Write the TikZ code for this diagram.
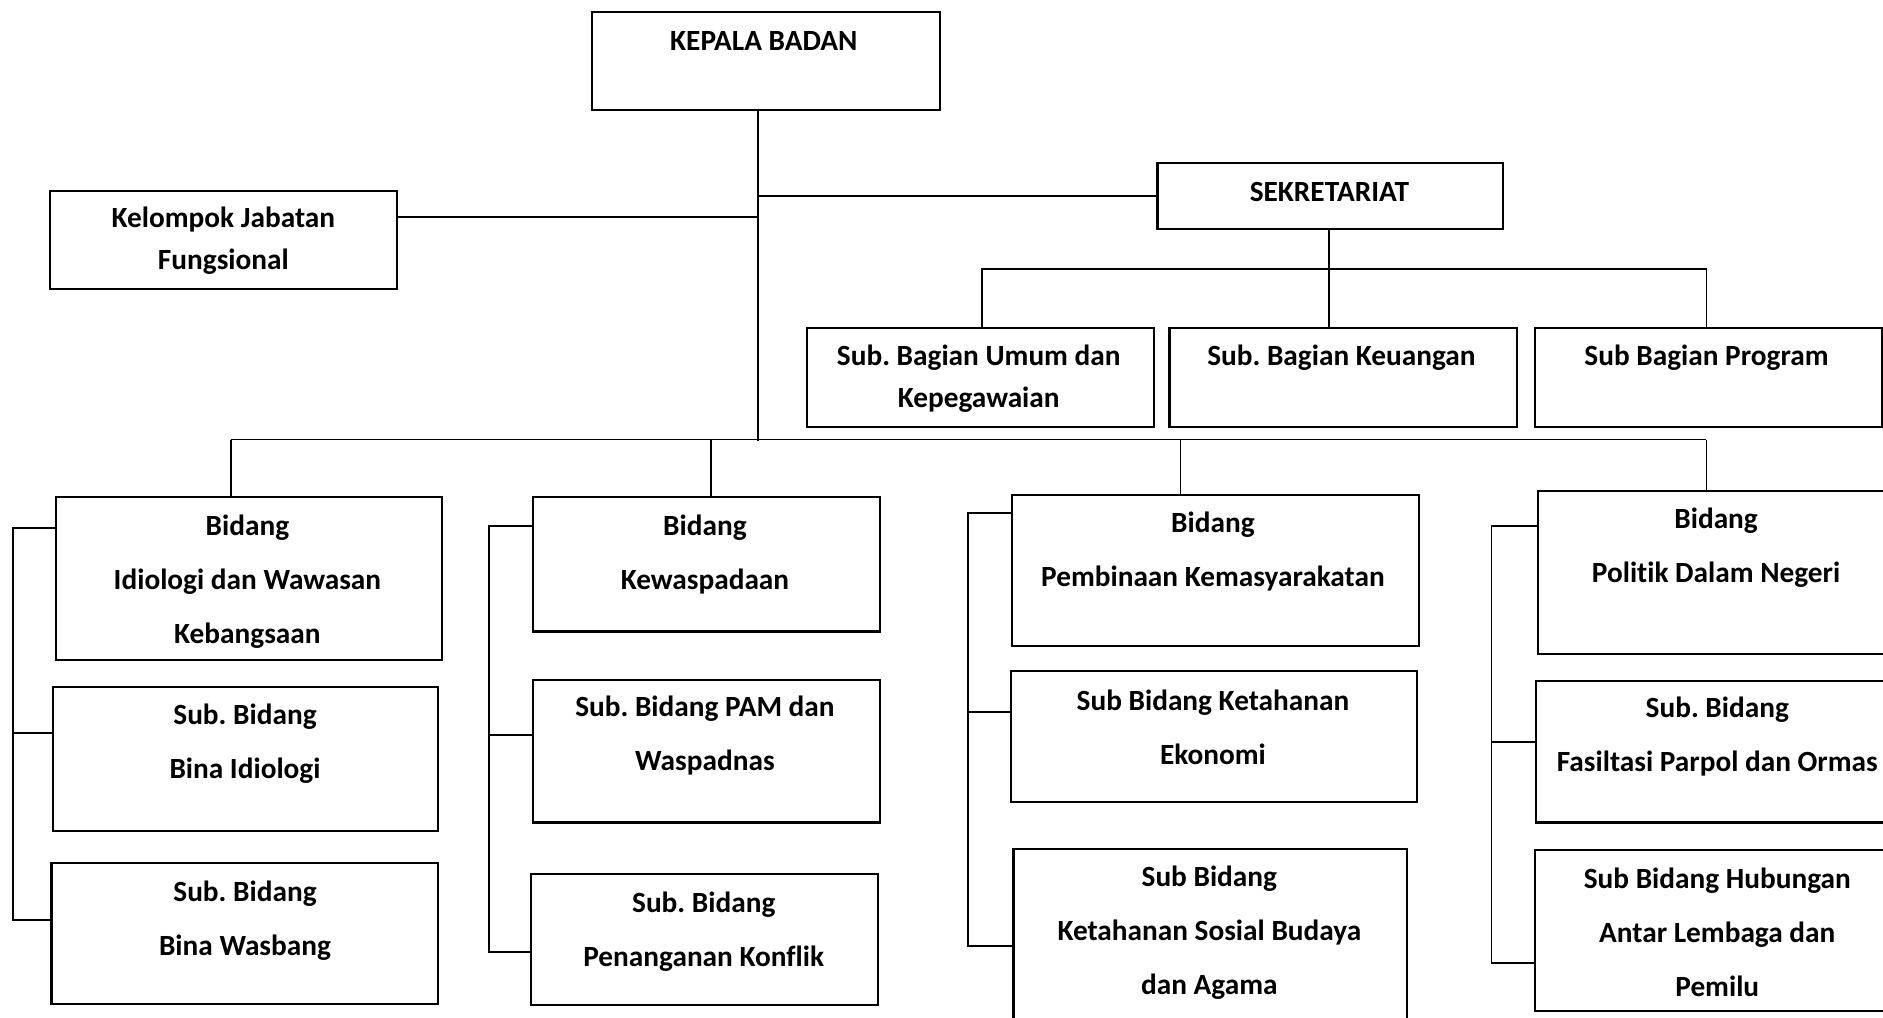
\documentclass[tikz,border=0pt]{standalone}
\usepackage{fontspec}
\setmainfont{Carlito}[Ligatures=NoCommon]
\frenchspacing
\newcommand\bxnode[5]{\node[bx, minimum width={(#4-#2)*0.5pt}, minimum height={(#5-#3)*0.5pt}] (#1) at (#2,#3) {};}
\begin{document}
\begin{tikzpicture}[x=0.5pt,y=-0.5pt,
  bx/.style={draw, line width=0.9pt, anchor=north west, inner sep=0pt, rectangle},
  txt/.style={font=\bfseries\fontsize{12.2}{22.5}\selectfont, align=center, inner sep=0pt},
  txts/.style={font=\bfseries\fontsize{12.2}{17.5}\selectfont, align=center, inner sep=0pt},
  conn/.style={line width=0.8pt}]
\clip (0,0) rectangle (1568,847);
\fill[white] (0,0) rectangle (1568,847);
% boxes
\bxnode{kb}{492}{9}{782}{91}
\bxnode{kel}{41}{158}{330}{240}
\bxnode{sek}{963}{135}{1251}{190}
\bxnode{umum}{671}{272}{960}{355}
\bxnode{keu}{973}{272}{1262}{355}
\bxnode{prog}{1277}{272}{1566}{355}
\bxnode{bid1}{46}{413}{367}{549}
\bxnode{s11}{43}{571}{364}{691}
\bxnode{s12}{42}{718}{364}{835}
\bxnode{bid2}{443}{413}{732}{525}
\bxnode{s21}{443}{565}{732}{684}
\bxnode{s22}{441}{727}{730}{836}
\bxnode{bid3}{842}{411}{1181}{537}
\bxnode{s31}{841}{558}{1179}{667}
\bxnode{s32}{843}{706}{1171}{870}
\bxnode{bid4}{1280}{408}{1590}{544}
\bxnode{s41}{1278}{566}{1590}{684}
\bxnode{s42}{1277}{707}{1590}{841}
% texts
\node[txt] (kbt) at (636,34) {KEPALA BADAN};
\node[txts] (kelt) at (186,200.5) {Kelompok Jabatan\\Fungsional};
\node[txt] (sekt) at (1107,160) {SEKRETARIAT};
\node[txts] (umumt) at (815,315.5) {Sub. Bagian Umum dan\\Kepegawaian};
\node[txt] (keut) at (1117,298) {Sub. Bagian Keuangan};
\node[txt] (progt) at (1421,298) {Sub Bagian Program};
\node[txt] (bid1t) at (206,484) {Bidang\\Idiologi dan Wawasan\\Kebangsaan};
\node[txt] (s11t) at (204,619.5) {Sub. Bidang\\Bina Idiologi};
\node[txt] (s12t) at (204,766.5) {Sub. Bidang\\Bina Wasbang};
\node[txt] (bid2t) at (587,461.5) {Bidang\\Kewaspadaan};
\node[txt] (s21t) at (587,612.5) {Sub. Bidang PAM dan\\Waspadnas};
\node[txt] (s22t) at (586,775.5) {Sub. Bidang\\Penanganan Konflik};
\node[txt] (bid3t) at (1010,459) {Bidang\\Pembinaan Kemasyarakatan};
\node[txt] (s31t) at (1010,605.5) {Sub Bidang Ketahanan\\Ekonomi};
\node[txt] (s32t) at (1007,776.5) {Sub Bidang\\Ketahanan Sosial Budaya\\dan Agama};
\node[txt] (bid4t) at (1429,456) {Bidang\\Politik Dalam Negeri};
\node[txt] (s41t) at (1430,613.5) {Sub. Bidang\\Fasiltasi Parpol dan Ormas};
\node[txt] (s42t) at (1430,776.5) {Sub Bidang Hubungan\\Antar Lembaga dan\\Pemilu};
% junction coordinates
\coordinate (tr) at (631,367);
\coordinate (kj) at (631,181);
\coordinate (sj) at (1107,224);
\coordinate (ul) at (818,224);
\coordinate (pr) at (1421,224);
\coordinate (b1) at (192,366);
\coordinate (b2) at (592,366);
\coordinate (b3) at (983,366);
\coordinate (b4) at (1421,366);
\coordinate (c1a) at (11,440); \coordinate (c1b) at (11,610); \coordinate (c1c) at (11,766);
\coordinate (c2a) at (407,438); \coordinate (c2b) at (407,612); \coordinate (c2c) at (407,793);
\coordinate (c3a) at (806,427); \coordinate (c3b) at (806,593); \coordinate (c3c) at (806,788);
\coordinate (c4a) at (1242,438); \coordinate (c4b) at (1242,618); \coordinate (c4c) at (1242,802);
% connectors
\draw[conn] (kb.south -| tr) -- (tr);
\draw[conn] (sek.west) -- (sek.west -| tr);
\draw[conn] (kj) -- (kj -| kel.east);
\draw[conn] (sek.south -| sj) -- (keu.north -| sj);
\draw[conn] (umum.north -| ul) -- (ul) -- (pr) -- (prog.north -| pr);
\draw[conn] (b1) -- (b4);
\draw[conn] (b1) -- (bid1.north -| b1);
\draw[conn] (b2) -- (bid2.north -| b2);
\draw[conn] (b3) -- (bid3.north -| b3);
\draw[conn] (b4) -- (bid4.north -| b4);
\draw[conn] (c1a -| bid1.west) -- (c1a) -- (c1c) -- (c1c -| s12.west);
\draw[conn] (c1b) -- (c1b -| s11.west);
\draw[conn] (c2a -| bid2.west) -- (c2a) -- (c2c) -- (c2c -| s22.west);
\draw[conn] (c2b) -- (c2b -| s21.west);
\draw[conn] (c3a -| bid3.west) -- (c3a) -- (c3c) -- (c3c -| s32.west);
\draw[conn] (c3b) -- (c3b -| s31.west);
\draw[conn] (c4a -| bid4.west) -- (c4a) -- (c4c) -- (c4c -| s42.west);
\draw[conn] (c4b) -- (c4b -| s41.west);
\end{tikzpicture}
\end{document}
